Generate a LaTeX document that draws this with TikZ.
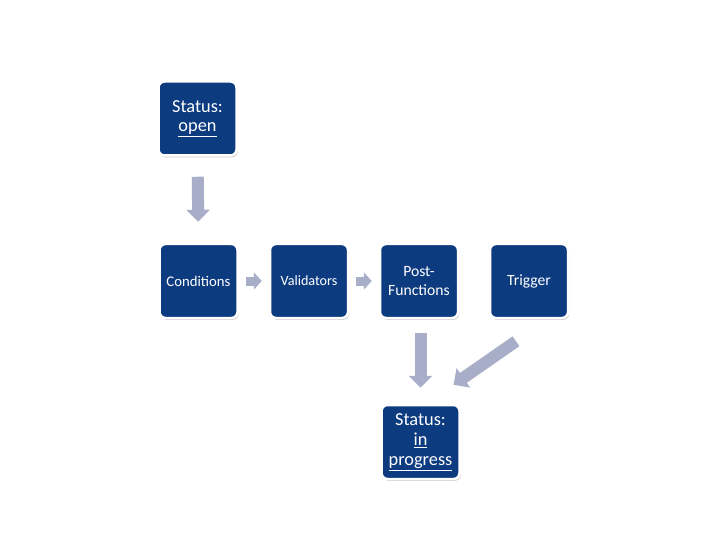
\documentclass[tikz,border=0pt]{standalone}
\usepackage{fontspec}
\setmainfont{Carlito}
\usetikzlibrary{arrows.meta,shadows,calc}
\definecolor{boxblue}{HTML}{0D3B7F}
\definecolor{arrowgray}{HTML}{A8AEC7}
\tikzset{
  stepbox/.style={rectangle, rounded corners=6bp, fill=boxblue, draw=white, line width=2.5bp,
    minimum width=78bp, minimum height=74bp, text width=74bp, align=center, text=white,
    inner sep=0pt,
    drop shadow={shadow xshift=1.2bp, shadow yshift=-1.8bp, opacity=0.35, fill=black!60}},
  bigarrow/.style={draw=arrowgray, line width=12bp,
    -{Triangle[width=23bp,length=12bp]}},
  smallarrow/.style={draw=arrowgray, line width=9bp,
    -{Triangle[width=17bp,length=8bp]}},
}
\begin{document}
\begin{tikzpicture}[x=1bp,y=-1bp]
\useasboundingbox (0,0) rectangle (720,540);
\node[stepbox, font=\fontsize{18.4}{20}\selectfont] (open) at (197.5,118.5) {Status:\\\underline{open}};
\node[stepbox, font=\fontsize{14.8}{16}\selectfont] (cond) at (198.5,281) {Conditions};
\node[stepbox, font=\fontsize{14.2}{16}\selectfont] (valid) at (309,281) {Validators};
\node[stepbox, font=\fontsize{15.7}{18.5}\selectfont] (post) at (419,281) {Post-\\Functions};
\node[stepbox, font=\fontsize{15.7}{18}\selectfont] (trig) at (529,281) {Trigger};
\node[stepbox, font=\fontsize{18.4}{20}\selectfont] (prog) at (420.5,442) {Status:\\\underline{in}\\\underline{progress}};
\coordinate (ta) at ($(trig.south)+(-13,22)$);
\coordinate (tb) at ($(prog.north)+(33,-19)$);
\draw[bigarrow, shorten <=20bp, shorten >=21bp] (open.south) -- (cond.north);
\draw[smallarrow, shorten <=7bp, shorten >=7bp] (cond.east) -- (valid.west);
\draw[smallarrow, shorten <=7bp, shorten >=7bp] (valid.east) -- (post.west);
\draw[bigarrow, shorten <=14bp, shorten >=16bp] (post.south -| prog.north) -- (prog.north);
\draw[bigarrow] (ta) -- (tb);
\end{tikzpicture}
\end{document}
